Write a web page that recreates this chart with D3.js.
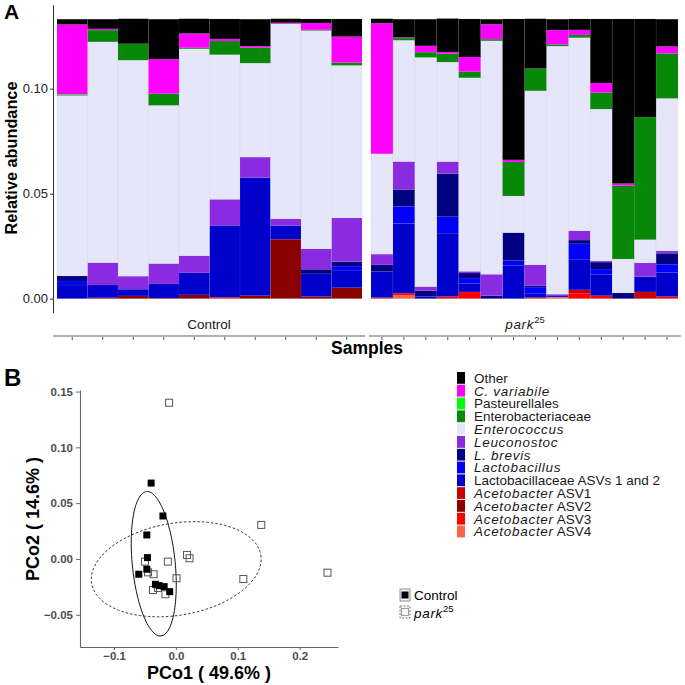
<!DOCTYPE html>
<html lang="en">
<head>
<meta charset="UTF-8">
<title>Relative abundance and PCoA</title>
<script src="https://d3js.org/d3.v7.min.js"></script>
<style>
  body { margin: 0; background: #fff; }
  svg { display: block; font-family: 'Liberation Sans', Arial, Helvetica, sans-serif; }
  .it { font-style: italic; letter-spacing: 0.7px; }
</style>
</head>
<body>
<svg width="685" height="685"></svg>
<script>
// ---------- data ----------
const controlIds = ["C01", "C02", "C03", "C04", "C05", "C06", "C07", "C08", "C09", "C10"];
const parkIds = ["P01", "P02", "P03", "P04", "P05", "P06", "P07", "P08", "P09", "P10", "P11", "P12", "P13", "P14"];

const taxa = ["Other", "C. variabile", "Pasteurellales", "Enterobacteriaceae", "Enterococcus",
  "Leuconostoc", "L. brevis", "Lactobacillus", "Lactobacillaceae ASVs 1 and 2",
  "Acetobacter ASV1", "Acetobacter ASV2", "Acetobacter ASV3", "Acetobacter ASV4"];
const taxonColors = ["#000000", "#ff00ff", "#00ff00", "#078807", "#e6e6fa", "#8a2be2", "#000080",
  "#0000ff", "#0000cd", "#cd0000", "#8b0000", "#ff0000", "#ff6347"];
const italicTaxa = ["C. variabile", "Enterococcus", "Leuconostoc", "L. brevis", "Lactobacillus", "Acetobacter"];

// relative abundance per taxon: 10 Control samples, then 14 park25 samples
const other          = [0.0025, 0.0046, 0.0119, 0.0190, 0.0070, 0.0095, 0.0128, 0.0019, 0.0019, 0.0084,
                        0.0021, 0.0087, 0.0127, 0.0159, 0.0181, 0.0024, 0.0671, 0.0237, 0.0052, 0.0052, 0.0305, 0.0784, 0.0467, 0.0130];
const cVariabile     = [0.0333, 0.0006, 0, 0.0165, 0.0068, 0.0010, 0.0008, 0.0005, 0.0033, 0.0124,
                        0.0622, 0.0003, 0.0030, 0.0008, 0.0070, 0.0071, 0.0010, 0, 0.0068, 0.0024, 0.0046, 0.0010, 0, 0.0033];
const pasteurellales = [0.0004, 0, 0, 0, 0, 0, 0, 0, 0, 0,
                        0, 0, 0, 0, 0, 0, 0, 0, 0, 0, 0, 0, 0, 0];
const enterobact     = [0.0002, 0.0056, 0.0078, 0.0055, 0.0005, 0.0065, 0.0073, 0, 0.0003, 0.0013,
                        0, 0.0010, 0.0025, 0.0040, 0.0029, 0.0008, 0.0162, 0.0106, 0.0008, 0.0013, 0.0078, 0.0349, 0.0584, 0.0214];
const enterococcus   = [0.0859, 0.1052, 0.1029, 0.0754, 0.0986, 0.0689, 0.0448, 0.0929, 0.1040, 0.0727,
                        0.0478, 0.0578, 0.1092, 0.0475, 0.0922, 0.1112, 0.0175, 0.0829, 0.1182, 0.0920, 0.0724, 0.0162, 0.0111, 0.0727];
const leuconostoc    = [0, 0.0106, 0.0062, 0.0097, 0.0081, 0.0124, 0.0098, 0.0033, 0.0097, 0.0208,
                        0.0051, 0.0133, 0.0019, 0.0057, 0.0008, 0.0102, 0, 0.0100, 0.0005, 0.0044, 0.0005, 0, 0.0065, 0.0011];
const lBrevis        = [0.0024, 0, 0, 0, 0, 0, 0, 0, 0.0022, 0.0021,
                        0.0032, 0.0080, 0.0028, 0.0205, 0.0024, 0.0014, 0.0133, 0.0006, 0, 0.0018, 0.0033, 0.0027, 0, 0.0052];
const lactobacillus  = [0.0019, 0, 0, 0, 0, 0, 0, 0, 0, 0.0019,
                        0, 0.0082, 0, 0.0078, 0.0025, 0, 0.0024, 0.0032, 0.0008, 0.0073, 0.0025, 0, 0, 0.0040];
const lactobacillaceae = [0.0065, 0.0061, 0.0032, 0.0067, 0.0105, 0.0342, 0.0562, 0.0064, 0.0108, 0.0084,
                        0.0124, 0.0332, 0.0010, 0.0302, 0.0041, 0, 0.0157, 0.0018, 0, 0.0146, 0.0102, 0, 0.0073, 0.0114];
const acetoASV1      = [0, 0, 0, 0, 0, 0, 0, 0, 0, 0,
                        0, 0, 0, 0, 0, 0, 0, 0, 0, 0.0016, 0, 0, 0.0032, 0];
const acetoASV2      = [0, 0.0004, 0.0013, 0.0003, 0.0018, 0.0003, 0.0014, 0.0283, 0.0010, 0.0052,
                        0, 0, 0, 0, 0, 0, 0, 0, 0, 0, 0, 0, 0, 0];
const acetoASV3      = [0, 0, 0, 0, 0, 0.0004, 0, 0, 0, 0,
                        0.0005, 0.0010, 0, 0.0010, 0.0032, 0, 0, 0.0005, 0, 0.0026, 0.0014, 0, 0, 0.0010];
const acetoASV4      = [0, 0, 0, 0, 0, 0, 0, 0, 0, 0,
                        0, 0.0016, 0, 0, 0, 0, 0, 0, 0.0008, 0, 0, 0, 0, 0];
const abundance = [other, cVariabile, pasteurellales, enterobact, enterococcus, leuconostoc, lBrevis,
  lactobacillus, lactobacillaceae, acetoASV1, acetoASV2, acetoASV3, acetoASV4];
const yTicksA = [0, 0.05, 0.10];

// PCoA coordinates
const controlPCo1 = [-0.040, -0.021, -0.047, -0.046, -0.047, -0.060, -0.033, -0.027, -0.019, -0.010];
const controlPCo2 = [0.068, 0.0385, 0.0215, 0.0012, -0.0092, -0.0137, -0.0227, -0.0239, -0.0248, -0.0293];
const parkPCo1 = [-0.011, 0.138, 0.245, 0.109, 0.018, 0.022, -0.013, 0.001, -0.050, -0.036, -0.037, -0.017, -0.045, -0.029];
const parkPCo2 = [0.140, 0.0305, -0.0123, -0.018, 0.0036, 0.0006, -0.0024, -0.0173, -0.0024, -0.0137, -0.0278, -0.0316, -0.012, -0.026];
// 95% ellipses: centre and two conjugate semi-axes, in PCo units
const controlEllipse = {cx: -0.0358, cy: -0.0043, ux: -0.0116, uy: 0.0647, vx: 0.0345, vy: 0.0019};
const parkEllipse = {cx: 0.0005, cy: -0.0092, ux: 0.1367, uy: 0.0127, vx: 0.0123, vy: -0.0407};
const xTicksB = [-0.1, 0, 0.1, 0.2];
const yTicksB = [-0.05, 0, 0.05, 0.10, 0.15];

// ---------- setup ----------
const svg = d3.select("svg");
const color = d3.scaleOrdinal().domain(taxa).range(taxonColors);

function addTaxonLabel(sel, name) {
  const it = italicTaxa.find(t => name === t || name.startsWith(t + " "));
  if (!it) { sel.text(name); return; }
  sel.append("tspan").attr("class", "it").text(it);
  if (name.length > it.length) sel.append("tspan").text(name.slice(it.length));
}

// ---------- panel A ----------
const yA = d3.scaleLinear().domain([-0.0067, 0.1400]).range([312.7, 4.7]);
const sampleIds = controlIds.concat(parkIds);
const rows = sampleIds.map((id, i) => {
  const r = {id};
  taxa.forEach((t, k) => r[t] = abundance[k][i]);
  return r;
});
const series = d3.stack().keys(taxa.slice().reverse())(rows);

const facets = [
  {ids: controlIds, range: [57, 362], line: [53, 365], label: "Control"},
  {ids: parkIds, range: [371, 678], line: [369, 681], label: "park", sup: "25"}
];

facets.forEach(f => {
  const x = d3.scaleBand().domain(f.ids).range(f.range).padding(0);
  const g = svg.append("g");
  series.forEach(s => {
    g.append("g")
      .attr("fill", color(s.key))
      .selectAll("rect")
      .data(s.filter(d => f.ids.includes(d.data.id) && d[1] > d[0]))
      .join("rect")
      .attr("x", d => x(d.data.id))
      .attr("width", x.bandwidth())
      .attr("y", d => yA(d[1]))
      .attr("height", d => yA(d[0]) - yA(d[1]))
      .attr("stroke", "#9a9aa8")
      .attr("stroke-opacity", 0.2)
      .attr("stroke-width", 0.5);
  });

  // strip label below the panel
  const lab = svg.append("text")
    .attr("x", (f.line[0] + f.line[1]) / 2)
    .attr("y", 329)
    .attr("text-anchor", "middle")
    .attr("font-size", 13.5)
    .attr("fill", "#1a1a1a");
  if (f.sup) {
    lab.append("tspan").attr("class", "it").text(f.label);
    lab.append("tspan").attr("dy", -6).attr("font-size", 9.5).text(f.sup);
  } else lab.text(f.label);

  // x axis under strips
  const ax = svg.append("g")
    .attr("transform", "translate(0,336)")
    .call(d3.axisBottom(x).tickSize(4).tickSizeOuter(0).tickFormat(""));
  ax.select(".domain").remove();
  ax.selectAll(".tick line").attr("stroke", "#555");
  svg.append("line")
    .attr("x1", f.line[0]).attr("x2", f.line[1])
    .attr("y1", 336).attr("y2", 336)
    .attr("stroke", "#b0b0b0").attr("stroke-width", 2);
});

const gyA = svg.append("g")
  .attr("transform", "translate(53,0)")
  .call(d3.axisLeft(yA).tickValues(yTicksA).tickFormat(d3.format(".2f")).tickSize(3).tickPadding(2).tickSizeOuter(0));
gyA.select(".domain").attr("stroke", "#333");
gyA.selectAll(".tick line").attr("stroke", "#333");
gyA.selectAll("text").attr("font-size", 13).attr("fill", "#222").attr("font-family", null);

svg.append("text")
  .attr("transform", "translate(17,158) rotate(-90)")
  .attr("text-anchor", "middle")
  .attr("font-size", 16.3).attr("font-weight", "bold")
  .text("Relative abundance");
svg.append("text")
  .attr("x", 367).attr("y", 354)
  .attr("text-anchor", "middle")
  .attr("font-size", 17.5).attr("font-weight", "bold")
  .text("Samples");
svg.append("text")
  .attr("x", 4).attr("y", 19)
  .attr("font-size", 21).attr("font-weight", "bold")
  .text("A");

// legend for taxa
const legA = svg.append("g").attr("transform", "translate(457,372)");
taxa.forEach((t, i) => {
  legA.append("rect")
    .attr("x", 0).attr("y", i * 12.8)
    .attr("width", 8).attr("height", 11.8)
    .attr("fill", color(t));
  const tx = legA.append("text")
    .attr("x", 17).attr("y", i * 12.8 + 6)
    .attr("dy", "0.36em")
    .attr("font-size", 13.5)
    .attr("fill", "#1a1a1a");
  addTaxonLabel(tx, t);
});

// ---------- panel B ----------
const xB = d3.scaleLinear().domain([-0.155, 0.262]).range([80, 338]);
const yB = d3.scaleLinear().domain([-0.0789, 0.1514]).range([647, 390]);

const gxB = svg.append("g")
  .attr("transform", "translate(0,647)")
  .call(d3.axisBottom(xB).tickValues(xTicksB).tickFormat(d3.format(".1f")).tickSize(3).tickSizeOuter(0).tickPadding(1.5));
const gyB = svg.append("g")
  .attr("transform", "translate(80,0)")
  .call(d3.axisLeft(yB).tickValues(yTicksB).tickFormat(d3.format(".2f")).tickSize(4).tickSizeOuter(0).tickPadding(3));
[gxB, gyB].forEach(g => {
  g.select(".domain").attr("stroke", "#666").attr("stroke-width", 1.1);
  g.selectAll(".tick line").attr("stroke", "#666");
  g.selectAll("text").attr("font-size", 11.5).attr("font-weight", "bold").attr("fill", "#4d4d4d").attr("font-family", null);
});

function ellipsePath(e) {
  const pts = d3.range(0, 361, 3).map(a => {
    const t = a * Math.PI / 180;
    return [xB(e.cx + e.ux * Math.cos(t) + e.vx * Math.sin(t)),
            yB(e.cy + e.uy * Math.cos(t) + e.vy * Math.sin(t))];
  });
  return d3.line().curve(d3.curveLinearClosed)(pts);
}
svg.append("path").attr("d", ellipsePath(parkEllipse))
  .attr("fill", "none").attr("stroke", "#222").attr("stroke-width", 0.9).attr("stroke-dasharray", "2.5,2");
svg.append("path").attr("d", ellipsePath(controlEllipse))
  .attr("fill", "none").attr("stroke", "#111").attr("stroke-width", 1);

const sq = 7;
svg.append("g").selectAll("rect")
  .data(parkPCo1.map((v, i) => [v, parkPCo2[i]]))
  .join("rect")
  .attr("x", d => xB(d[0]) - sq / 2).attr("y", d => yB(d[1]) - sq / 2)
  .attr("width", sq).attr("height", sq)
  .attr("fill", "#fff").attr("fill-opacity", 0).attr("stroke", "#555").attr("stroke-width", 1);
svg.append("g").selectAll("rect")
  .data(controlPCo1.map((v, i) => [v, controlPCo2[i]]))
  .join("rect")
  .attr("x", d => xB(d[0]) - sq / 2).attr("y", d => yB(d[1]) - sq / 2)
  .attr("width", sq).attr("height", sq)
  .attr("fill", "#000");

svg.append("text")
  .attr("x", 209).attr("y", 679)
  .attr("text-anchor", "middle")
  .attr("font-size", 18).attr("font-weight", "bold")
  .text("PCo1 ( 49.6% )");
svg.append("text")
  .attr("transform", "translate(39,519) rotate(-90)")
  .attr("text-anchor", "middle")
  .attr("font-size", 18).attr("font-weight", "bold")
  .text("PCo2 ( 14.6% )");
svg.append("text")
  .attr("x", 4).attr("y", 386)
  .attr("font-size", 24).attr("font-weight", "bold")
  .text("B");

// legend for genotypes
const legB = svg.append("g").attr("transform", "translate(400,589)");
legB.append("rect").attr("x", 0).attr("y", 0).attr("width", 10).attr("height", 12)
  .attr("fill", "#f2f2f2").attr("stroke", "#777").attr("stroke-width", 0.8);
legB.append("rect").attr("x", 1.5).attr("y", 2.5).attr("width", 7).attr("height", 7).attr("fill", "#000");
legB.append("rect").attr("x", 0).attr("y", 17).attr("width", 10).attr("height", 12)
  .attr("fill", "#f7f7f7").attr("stroke", "#555").attr("stroke-width", 0.8).attr("stroke-dasharray", "2,1.5");
legB.append("rect").attr("x", 1.5).attr("y", 19.5).attr("width", 7).attr("height", 7)
  .attr("fill", "none").attr("stroke", "#888").attr("stroke-width", 0.8);
legB.append("text").attr("x", 14).attr("y", 6).attr("dy", "0.36em").attr("font-size", 13.5).text("Control");
const pk = legB.append("text").attr("x", 14).attr("y", 24).attr("dy", "0.36em").attr("font-size", 13.5);
pk.append("tspan").attr("class", "it").text("park");
pk.append("tspan").attr("dy", -6).attr("font-size", 9.5).text("25");
</script>
</body>
</html>
